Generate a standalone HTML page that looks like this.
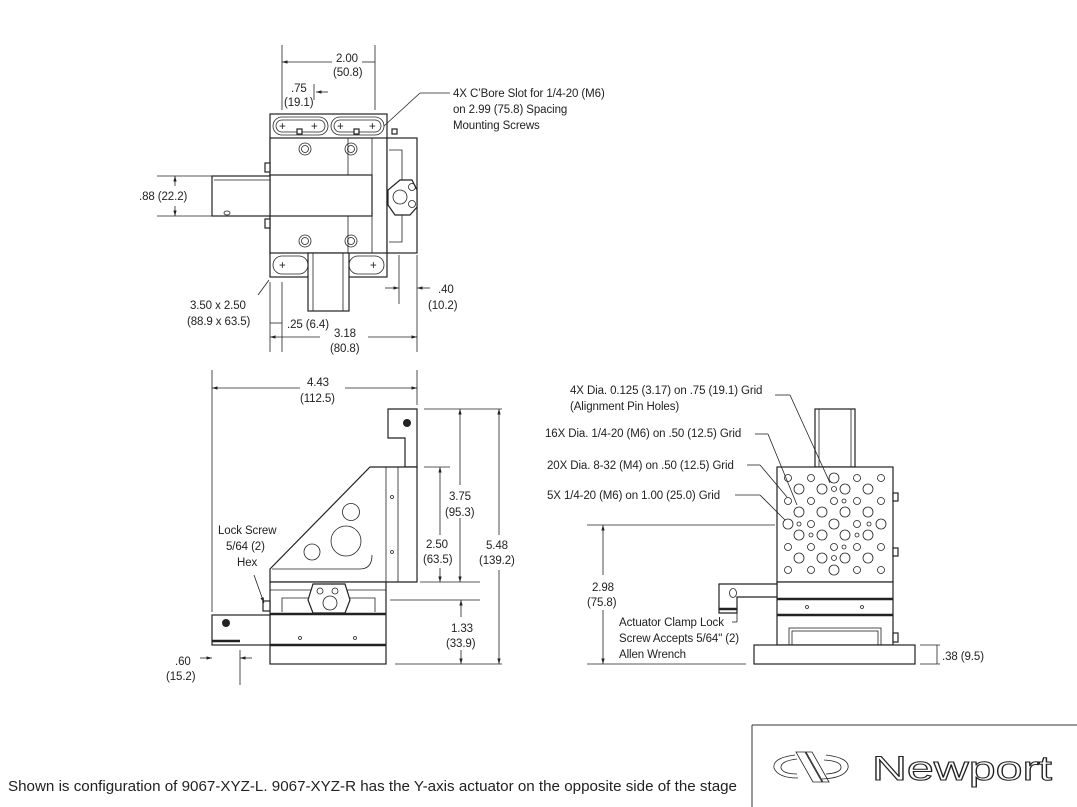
<!DOCTYPE html>
<html><head><meta charset="utf-8"><style>
html,body{margin:0;padding:0;background:#fff;}
svg{display:block;}
text{font-family:"Liberation Sans",sans-serif;font-size:11.5px;letter-spacing:-0.1px;fill:#222;}
.l{stroke:#222;stroke-width:1.2;fill:none;}
.t{stroke:#222;stroke-width:0.8;fill:none;}
.f{stroke:#222;stroke-width:1.2;fill:#fff;}
.k{stroke:#222;stroke-width:2.5;fill:none;}
</style></head><body>
<svg width="1077" height="807" viewBox="0 0 1077 807" xmlns="http://www.w3.org/2000/svg">
<defs>
<marker id="a" viewBox="0 0 10 10" refX="10" refY="5" markerWidth="7" markerHeight="7" orient="auto-start-reverse"><path d="M0,2 L10,5 L0,8 z" fill="#222"/></marker>
</defs>

<!-- ===== TOP VIEW ===== -->
<rect class="f" x="270" y="114" width="117" height="163"/>
<rect class="f" x="270" y="138" width="117" height="115"/>
<rect class="f" x="387" y="138" width="30" height="115"/>
<line class="t" x1="372" y1="138" x2="372" y2="253"/>
<rect class="f" x="270" y="175" width="102" height="41"/>
<line class="t" x1="348" y1="138" x2="348" y2="175"/><line class="t" x1="348" y1="216" x2="348" y2="253"/>
<rect class="f" x="212" y="176" width="58" height="40"/>
<line class="t" x1="214" y1="180" x2="270" y2="180"/>
<rect class="f" x="265" y="163" width="5" height="9"/><rect class="f" x="265" y="219" width="5" height="9"/>
<ellipse class="t" cx="227" cy="213" rx="3" ry="2"/>
<rect class="f" x="308" y="253" width="41" height="58"/>
<line class="t" x1="313" y1="253" x2="313" y2="311"/><line class="t" x1="343" y1="253" x2="343" y2="311"/>
<rect class="t" x="273" y="117" width="55" height="18" rx="9"/><rect class="t" x="276" y="120" width="49" height="12" rx="6"/>
<rect class="t" x="331" y="117" width="53" height="18" rx="9"/><rect class="t" x="334" y="120" width="47" height="12" rx="6"/>
<rect class="t" x="273" y="256" width="35" height="18" rx="9"/><rect class="t" x="349" y="256" width="35" height="18" rx="9"/>
<text x="279" y="130" font-size="10">+</text><text x="311" y="130" font-size="10">+</text>
<text x="337" y="130" font-size="10">+</text><text x="369" y="130" font-size="10">+</text>
<text x="279" y="269" font-size="10">+</text><text x="370" y="269" font-size="10">+</text>
<rect class="f" x="297" y="129" width="5" height="5"/><rect class="f" x="354" y="129" width="5" height="5"/><rect class="f" x="392" y="129" width="5" height="5"/>
<g class="t">
<circle cx="305" cy="149" r="6"/><circle cx="305" cy="149" r="3.5"/>
<circle cx="351" cy="149" r="6"/><circle cx="351" cy="149" r="3.5"/>
<circle cx="305" cy="241" r="6"/><circle cx="305" cy="241" r="3.5"/>
<circle cx="351" cy="241" r="6"/><circle cx="351" cy="241" r="3.5"/>
</g>
<path class="t" d="M389,150 L402,150 L402,242 L389,242"/>
<path class="f" d="M400,180 L412,180 L417,190 L417,207 L410,215 L395,215 L388,205 L388,190 Z"/>
<circle class="t" cx="400" cy="197" r="7"/><circle class="t" cx="412" cy="187" r="3.5"/><circle class="t" cx="412" cy="204" r="3.5"/>
<g class="t">
<line x1="282" y1="45" x2="282" y2="110"/><line x1="375" y1="45" x2="375" y2="110"/>
<line x1="282" y1="62" x2="332" y2="62" marker-start="url(#a)"/><line x1="362" y1="62" x2="375" y2="62"/>
<line x1="314" y1="84" x2="314" y2="100"/><line x1="316" y1="92" x2="328" y2="92" marker-start="url(#a)"/>
<line x1="157" y1="176" x2="212" y2="176"/><line x1="157" y1="216" x2="212" y2="216"/>
<line x1="175" y1="176" x2="175" y2="186" marker-start="url(#a)"/><line x1="175" y1="206" x2="175" y2="216" marker-end="url(#a)"/>
<line x1="384" y1="126" x2="420" y2="93"/><line x1="420" y1="93" x2="450" y2="93"/>
<line x1="269" y1="280" x2="258" y2="295"/>
<line x1="270" y1="282" x2="270" y2="352"/><line x1="282" y1="282" x2="282" y2="352"/>
<line x1="399" y1="255" x2="399" y2="304"/><line x1="417" y1="255" x2="417" y2="352"/>
<line x1="385" y1="288" x2="399" y2="288" marker-end="url(#a)"/><line x1="417" y1="288" x2="430" y2="288" marker-start="url(#a)"/>
<line x1="270" y1="337" x2="320" y2="337" marker-start="url(#a)"/><line x1="368" y1="337" x2="417" y2="337" marker-end="url(#a)"/>
<line x1="270" y1="323" x2="282" y2="323"/>
</g>
<text x="336" y="62">2.00</text><text x="333" y="76">(50.8)</text>
<text x="291" y="92">.75</text><text x="284" y="106">(19.1)</text>
<text x="139" y="200">.88 (22.2)</text>
<text x="453" y="97">4X C’Bore Slot for 1/4-20 (M6)</text>
<text x="453" y="113">on 2.99 (75.8) Spacing</text>
<text x="453" y="129">Mounting Screws</text>
<text x="190" y="309">3.50 x 2.50</text><text x="187" y="325">(88.9 x 63.5)</text>
<text x="287" y="328">.25 (6.4)</text>
<text x="334" y="337">3.18</text><text x="330" y="352">(80.8)</text>
<text x="438" y="293">.40</text><text x="428" y="309">(10.2)</text>

<!-- ===== FRONT VIEW ===== -->
<path class="f" d="M388,409 L417,409 L417,467 L405,467 L405,438 L388,438 Z"/>
<ellipse cx="407" cy="423" rx="4" ry="4" fill="#222"/>
<path class="f" d="M370,467 L417,467 L417,582 L270,582 L270,569 Z"/>
<line class="t" x1="386" y1="467" x2="386" y2="582"/><line class="t" x1="398" y1="467" x2="398" y2="582"/>
<circle class="t" cx="392" cy="497" r="1.5"/><circle class="t" cx="392" cy="552" r="1.5"/>
<circle class="t" cx="351" cy="512" r="8.5"/><circle class="t" cx="346" cy="541" r="15"/><circle class="t" cx="312" cy="552" r="8"/>
<path class="t" d="M272,569 L360,569 Q372,569 372,555"/>
<rect class="f" x="270" y="582" width="116" height="82"/>
<line class="t" x1="270" y1="590" x2="386" y2="590"/>
<line class="k" x1="270" y1="614" x2="386" y2="614"/>
<line class="k" x1="270" y1="645" x2="386" y2="645"/>
<circle class="t" cx="300" cy="638" r="1.5"/><circle class="t" cx="355" cy="638" r="1.5"/>
<path class="t" d="M282,612 L282,598 L375,598 L375,612"/>
<path class="f" d="M313,584 L345,584 L350,600 L345,613 L313,613 L308,600 Z"/>
<circle class="t" cx="330" cy="603" r="7"/><circle class="t" cx="320" cy="591" r="3"/><circle class="t" cx="335" cy="591" r="3"/>
<rect class="f" x="212" y="615" width="58" height="30"/>
<line class="k" x1="212" y1="641" x2="240" y2="641"/>
<ellipse cx="226" cy="623" rx="4" ry="4" fill="#222"/>
<rect class="f" x="263" y="601" width="7" height="10"/>
<g class="t">
<line x1="212" y1="370" x2="212" y2="612"/><line x1="417" y1="370" x2="417" y2="405"/>
<line x1="212" y1="388" x2="300" y2="388" marker-start="url(#a)"/><line x1="345" y1="388" x2="417" y2="388" marker-end="url(#a)"/>
<line x1="424" y1="409" x2="502" y2="409"/><line x1="424" y1="467" x2="450" y2="467"/>
<line x1="420" y1="582" x2="480" y2="582"/><line x1="390" y1="600" x2="480" y2="600"/>
<line x1="395" y1="664" x2="502" y2="664"/>
<line x1="460" y1="409" x2="460" y2="485" marker-start="url(#a)"/><line x1="460" y1="518" x2="460" y2="582" marker-end="url(#a)"/>
<line x1="440" y1="467" x2="440" y2="535" marker-start="url(#a)"/><line x1="440" y1="568" x2="440" y2="582" marker-end="url(#a)"/>
<line x1="499" y1="409" x2="499" y2="535" marker-start="url(#a)"/><line x1="499" y1="570" x2="499" y2="664" marker-end="url(#a)"/>
<line x1="461" y1="600" x2="461" y2="617" marker-start="url(#a)"/><line x1="461" y1="650" x2="461" y2="664" marker-end="url(#a)"/>
<line x1="240" y1="650" x2="240" y2="685"/>
<line x1="200" y1="658" x2="212" y2="658" marker-end="url(#a)"/><line x1="240" y1="658" x2="252" y2="658" marker-start="url(#a)"/>
<line x1="254" y1="575" x2="264" y2="603" marker-end="url(#a)"/>
</g>
<text x="307" y="386">4.43</text><text x="300" y="402">(112.5)</text>
<text x="449" y="500">3.75</text><text x="445" y="516">(95.3)</text>
<text x="426" y="548">2.50</text><text x="423" y="563">(63.5)</text>
<text x="486" y="549">5.48</text><text x="479" y="564">(139.2)</text>
<text x="451" y="632">1.33</text><text x="446" y="647">(33.9)</text>
<text x="175" y="665">.60</text><text x="166" y="680">(15.2)</text>
<text x="218" y="534">Lock Screw</text><text x="226" y="550">5/64 (2)</text><text x="237" y="566">Hex</text>

<!-- ===== SIDE VIEW ===== -->
<rect class="f" x="815" y="409" width="40" height="58"/>
<line class="t" x1="819" y1="409" x2="819" y2="467"/><line class="t" x1="851" y1="409" x2="851" y2="467"/>
<rect class="f" x="777" y="467" width="116" height="115"/>
<rect class="f" x="893" y="493" width="5" height="8"/><rect class="f" x="893" y="548" width="5" height="8"/>
<g class="t">
<circle cx="788" cy="478" r="3.5"/><circle cx="811" cy="478" r="3.5"/><circle cx="834" cy="478" r="5"/><circle cx="857" cy="478" r="3.5"/><circle cx="881" cy="478" r="3.5"/>
<circle cx="788" cy="501" r="3.5"/><circle cx="811" cy="501" r="3.5"/><circle cx="834" cy="501" r="3.5"/><circle cx="857" cy="501" r="3.5"/><circle cx="881" cy="501" r="3.5"/>
<circle cx="788" cy="524" r="5"/><circle cx="811" cy="524" r="3.5"/><circle cx="834" cy="524" r="5"/><circle cx="857" cy="524" r="3.5"/><circle cx="881" cy="524" r="5"/>
<circle cx="788" cy="547" r="3.5"/><circle cx="811" cy="547" r="3.5"/><circle cx="834" cy="547" r="3.5"/><circle cx="857" cy="547" r="3.5"/><circle cx="881" cy="547" r="3.5"/>
<circle cx="788" cy="570" r="3.5"/><circle cx="811" cy="570" r="3.5"/><circle cx="834" cy="570" r="5"/><circle cx="857" cy="570" r="3.5"/><circle cx="881" cy="570" r="3.5"/>
<circle cx="799" cy="489" r="5"/><circle cx="822" cy="489" r="5"/><circle cx="845" cy="489" r="5"/><circle cx="868" cy="489" r="5"/>
<circle cx="799" cy="512" r="5"/><circle cx="822" cy="512" r="5"/><circle cx="845" cy="512" r="5"/><circle cx="868" cy="512" r="5"/>
<circle cx="799" cy="535" r="5"/><circle cx="822" cy="535" r="5"/><circle cx="845" cy="535" r="5"/><circle cx="868" cy="535" r="5"/>
<circle cx="799" cy="558" r="5"/><circle cx="822" cy="558" r="5"/><circle cx="845" cy="558" r="5"/><circle cx="868" cy="558" r="5"/>
<circle cx="834" cy="489" r="2.5"/><circle cx="834" cy="558" r="2.5"/><circle cx="811" cy="535" r="2"/><circle cx="857" cy="535" r="2"/><circle cx="844" cy="501" r="2"/><circle cx="844" cy="547" r="2"/><circle cx="799" cy="524" r="2"/><circle cx="869" cy="524" r="2"/>
</g>
<rect class="f" x="777" y="582" width="116" height="63"/>
<line class="k" x1="777" y1="599" x2="893" y2="599"/><line class="k" x1="777" y1="615" x2="893" y2="615"/>
<circle class="t" cx="807" cy="607" r="1.5"/><circle class="t" cx="862" cy="607" r="1.5"/>
<rect class="t" x="789" y="628" width="92" height="17"/><rect class="t" x="792" y="631" width="86" height="14"/>
<rect class="f" x="893" y="633" width="5" height="9"/>
<rect class="f" x="754" y="645" width="161" height="19"/>
<path class="f" d="M719,584 L777,584 L777,597 L737,597 L737,613 L719,613 Z"/>
<line class="k" x1="719" y1="609" x2="737" y2="609"/>
<ellipse class="t" cx="733" cy="593" rx="3.5" ry="4.5"/>
<g class="t">
<line x1="775" y1="395" x2="790" y2="395"/><line x1="790" y1="395" x2="830" y2="483"/>
<line x1="755" y1="434" x2="768" y2="434"/><line x1="768" y1="434" x2="797" y2="505"/>
<line x1="747" y1="465" x2="760" y2="465"/><line x1="760" y1="465" x2="787" y2="497"/>
<line x1="735" y1="495" x2="760" y2="495"/><line x1="760" y1="495" x2="785" y2="520"/>
<line x1="587" y1="525" x2="775" y2="525"/>
<line x1="587" y1="664" x2="746" y2="664"/>
<line x1="603" y1="525" x2="603" y2="575" marker-start="url(#a)"/><line x1="603" y1="610" x2="603" y2="664" marker-end="url(#a)"/>
<line x1="737" y1="599" x2="737" y2="622"/><line x1="737" y1="622" x2="732" y2="622"/>
<line x1="920" y1="645" x2="940" y2="645"/><line x1="920" y1="664" x2="940" y2="664"/><line x1="937" y1="645" x2="937" y2="664"/>
</g>
<text x="570" y="394">4X Dia. 0.125 (3.17) on .75 (19.1) Grid</text>
<text x="570" y="410">(Alignment Pin Holes)</text>
<text x="545" y="437">16X Dia. 1/4-20 (M6) on .50 (12.5) Grid</text>
<text x="547" y="469">20X Dia. 8-32 (M4) on .50 (12.5) Grid</text>
<text x="547" y="499">5X 1/4-20 (M6) on 1.00 (25.0) Grid</text>
<text x="592" y="591">2.98</text><text x="587" y="606">(75.8)</text>
<text x="619" y="626">Actuator Clamp Lock</text>
<text x="619" y="642">Screw Accepts 5/64" (2)</text>
<text x="619" y="658">Allen Wrench</text>
<text x="942" y="660">.38 (9.5)</text>

<!-- footer -->
<line x1="752" y1="725" x2="1077" y2="725" stroke="#333" stroke-width="1"/>
<line x1="752" y1="725" x2="752" y2="807" stroke="#333" stroke-width="1"/>
<text x="8" y="791" textLength="729" lengthAdjust="spacingAndGlyphs" style="font-size:15.2px;letter-spacing:0;">Shown is configuration of 9067-XYZ-L. 9067-XYZ-R has the Y-axis actuator on the opposite side of the stage</text>
<g class="t" stroke-width="1">
<path d="M795,755 Q772,758 774,768 Q778,778 798,778"/><path d="M797,759 Q780,761 781,768 Q783,774 797,774"/>
<path d="M826,755 Q850,758 848,768 Q845,778 822,779"/><path d="M824,760 Q842,761 841,768 Q840,773 826,774"/>
<path d="M796,752 L805,752 L822,782 L813,782 Z"/><path d="M806,752 L812,752 L829,782 L823,782 Z"/>
</g>
<text x="872" y="780" textLength="180" lengthAdjust="spacingAndGlyphs" style="font-size:34px;letter-spacing:0;fill:#fff;stroke:#222;stroke-width:1;">Newport</text>
</svg>
</body></html>
